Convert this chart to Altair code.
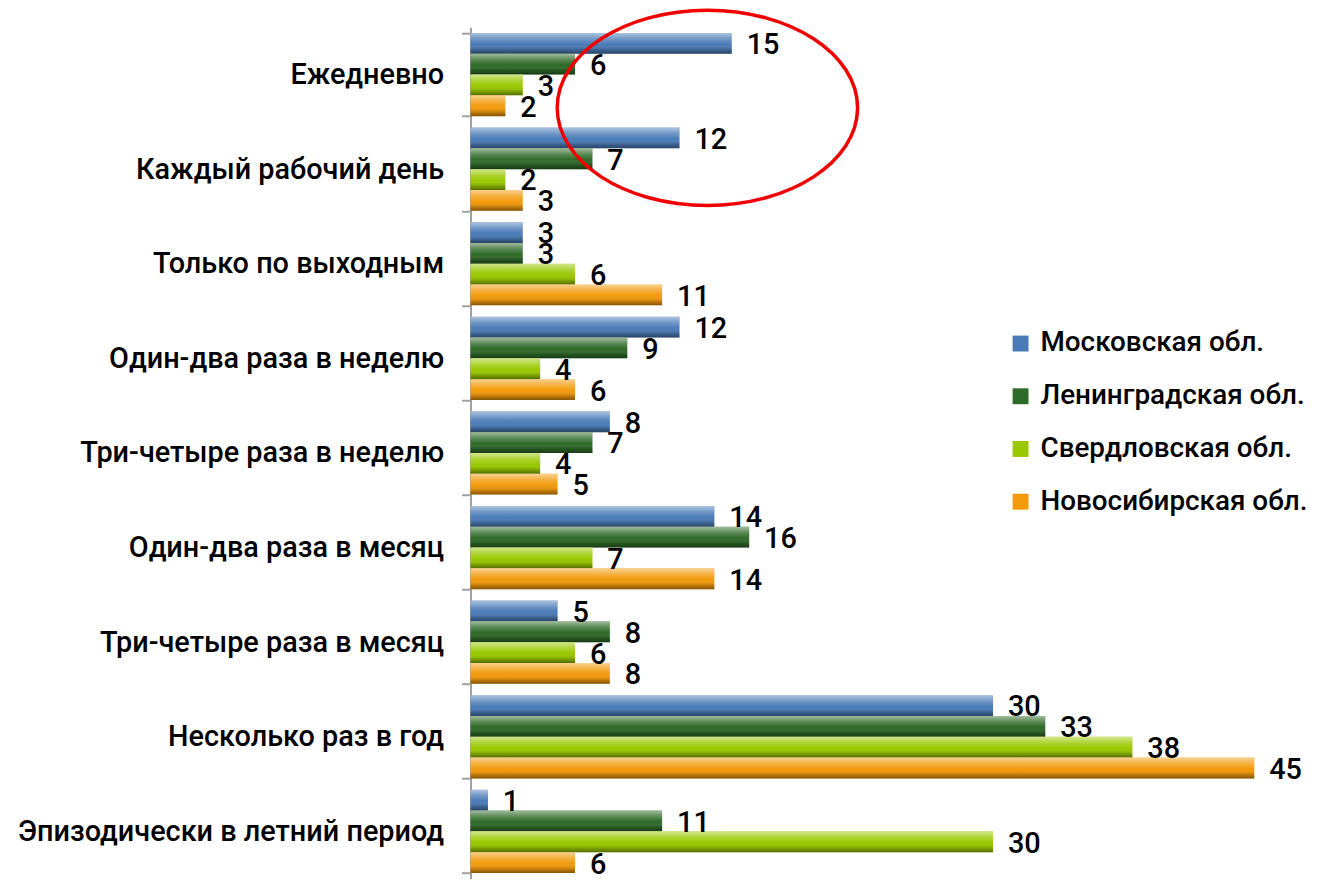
import altair as alt
import pandas as pd

categories = [
    "Ежедневно",
    "Каждый рабочий день",
    "Только по выходным",
    "Один-два раза в неделю",
    "Три-четыре раза в неделю",
    "Один-два раза в месяц",
    "Три-четыре раза в месяц",
    "Несколько раз в год",
    "Эпизодически в летний период",
]
series = ["Московская обл.", "Ленинградская обл.", "Свердловская обл.", "Новосибирская обл."]
moscow = [15, 12, 3, 12, 8, 14, 5, 30, 1]
leningrad = [6, 7, 3, 9, 7, 16, 8, 33, 11]
sverdlovsk = [3, 2, 6, 4, 4, 7, 6, 38, 30]
novosibirsk = [2, 3, 11, 6, 5, 14, 8, 45, 6]
colors = ["#4a7bb7", "#2e6a28", "#99c800", "#f29a0a"]

# annotation ellipse (centre in data units on x)
ellipse_x = [13.6]

rows = []
for s, vals in zip(series, [moscow, leningrad, sverdlovsk, novosibirsk]):
    for c, v in zip(categories, vals):
        rows.append({"cat": c, "series": s, "value": v})
df = pd.DataFrame(rows)

FONT = "Roboto"
WEIGHT = 500

y_enc = alt.Y(
    "cat:N",
    sort=categories,
    scale=alt.Scale(paddingInner=0.12, paddingOuter=0.06),
    axis=alt.Axis(
        title=None,
        labelFont=FONT,
        labelFontWeight=WEIGHT,
        labelFontSize=29,
        labelColor="#000000",
        labelPadding=18,
        labelLimit=600,
        tickBand="extent",
        tickSize=9,
        tickColor="#a0a0a0",
        tickWidth=2,
        domainColor="#a0a0a0",
        domainWidth=2,
        grid=False,
    ),
)
yoff = alt.YOffset("series:N", sort=series)
x_enc = alt.X("value:Q", scale=alt.Scale(domain=[0, 45], nice=False), axis=None)

base = alt.Chart(df)

bars = base.mark_bar().encode(
    y=y_enc,
    yOffset=yoff,
    x=x_enc,
    color=alt.Color(
        "series:N",
        sort=series,
        scale=alt.Scale(domain=series, range=colors),
        legend=alt.Legend(
            title=None,
            orient="none",
            legendX=539,
            legendY=304,
            labelFont=FONT,
            labelFontWeight=WEIGHT,
            labelFontSize=28,
            labelColor="#000000",
            symbolType="square",
            symbolSize=256,
            symbolStrokeWidth=0,
            labelOffset=6,
            rowPadding=25,
            labelLimit=400,
        ),
    ),
)

shade = base.mark_bar(
    fill=alt.Gradient(
        gradient="linear",
        x1=0, x2=0, y1=0, y2=1,
        stops=[
            alt.GradientStop(offset=0, color="rgba(255,255,255,0.55)"),
            alt.GradientStop(offset=0.3, color="rgba(255,255,255,0.2)"),
            alt.GradientStop(offset=0.55, color="rgba(255,255,255,0)"),
            alt.GradientStop(offset=0.8, color="rgba(0,0,0,0.18)"),
            alt.GradientStop(offset=1, color="rgba(0,0,0,0.45)"),
        ],
    )
).encode(y=alt.Y("cat:N", sort=categories), yOffset=yoff, x="value:Q")

labels = base.mark_text(
    align="left", baseline="middle", dx=15, dy=2, font=FONT, fontWeight=WEIGHT,
    fontSize=29, color="#000000"
).encode(y=alt.Y("cat:N", sort=categories), yOffset=yoff, x="value:Q", text="value:Q")

ell_df = pd.DataFrame({"x": ellipse_x})
ellipse = alt.Chart(ell_df).mark_point(
    shape="M-1,0A1,0.65,0,1,1,1,0A1,0.65,0,1,1,-1,0Z",
    size=302 * 302,
    filled=False,
    stroke="#f00000",
    strokeWidth=3.5,
    opacity=1,
).encode(x=alt.X("x:Q"), y=alt.value(81))

chart = (
    alt.layer(bars, shade, labels, ellipse)
    .properties(
        width=788,
        height=856,
        padding={"left": 465, "top": 17, "right": 57, "bottom": 0},
        autosize=alt.AutoSizeParams(type="none"),
    )
    .configure_view(stroke=None)
)

chart.save("out.html", embed_options={"renderer": "svg", "actions": False})
